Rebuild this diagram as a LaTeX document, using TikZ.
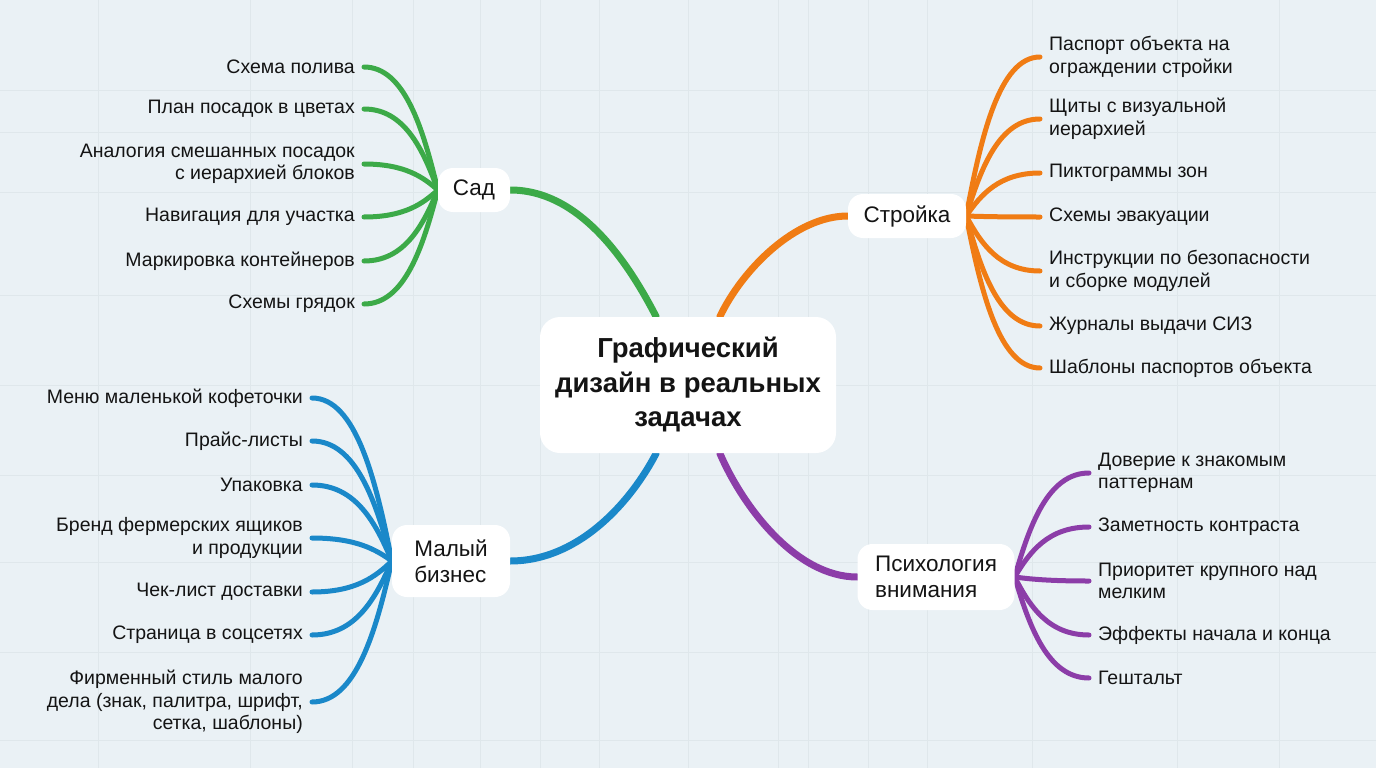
\documentclass[tikz,border=0pt]{standalone}
\usepackage{fontspec}
\setmainfont{Liberation Sans}
\usetikzlibrary{calc}
\pgfdeclarelayer{bg}
\pgfdeclarelayer{links}
\pgfsetlayers{bg,links,main}
\definecolor{bgc}{HTML}{EAF1F5}
\definecolor{gridc}{HTML}{DFE7EB}
\definecolor{cgreen}{HTML}{3CAA48}
\definecolor{corange}{HTML}{F07C14}
\definecolor{cblue}{HTML}{1A88C9}
\definecolor{cpurple}{HTML}{8C3DA8}
\definecolor{ink}{HTML}{141414}
\newcommand\mmfan[3]{\draw[#1] let \p1=(#2), \p2=(#3) in (\p1) .. controls ({\x1+0.2*(\x2-\x1)},{0.5*(\y1+\y2)}) and ({\x2+0.55*(\x1-\x2)},\y2) .. (\p2);}
\begin{document}
\begin{tikzpicture}[x=1pt,y=-1pt,
  gridline/.style={draw=gridc, line width=0.9pt},
  rootbox/.style={rounded corners=20pt, fill=white, align=center, text=ink,
    font=\fontsize{27.5}{34.5}\selectfont\bfseries, minimum width=296pt, minimum height=136pt, inner sep=0pt},
  branchbox/.style={rounded corners=15pt, fill=white, align=left, text=ink,
    font=\fontsize{22.5}{26}\selectfont, inner sep=0pt},
  leafL/.style={anchor=east, align=right, text=ink, font=\fontsize{19.5}{22.5}\selectfont, inner xsep=9pt, inner ysep=0pt},
  leafR/.style={anchor=west, align=left, text=ink, font=\fontsize{19.5}{22.5}\selectfont, inner xsep=9pt, inner ysep=0pt},
  mainlink/.style={line width=7pt, line cap=round},
  leaflink/.style={line width=5pt, line cap=round},
]
\useasboundingbox (0,0) rectangle (1376,768);
\begin{pgfonlayer}{bg}
  \fill[bgc] (0,0) rectangle (1376,768);
  \foreach \gx in {98,250,352,413,480,540,599,688,778,808,868,927,1032,1177,1279}
    \draw[gridline] (\gx,0) -- (\gx,768);
  \foreach \gy in {90,132,192,295,385,475,562,652,740}
    \draw[gridline] (0,\gy) -- (1376,\gy);
\end{pgfonlayer}

% central and branch nodes
\node[rootbox] (root) at (688,385) {Графический\\дизайн в реальных\\задачах};
\node[branchbox, minimum width=72pt, minimum height=44pt] (sad) at (474,190) {Сад};
\node[branchbox, minimum width=118pt, minimum height=44pt] (stroy) at (907,216) {Стройка};
\node[branchbox, minimum width=118pt, minimum height=72pt] (biz) at (451,561) {Малый\\бизнес};
\node[branchbox, minimum width=157pt, minimum height=66pt] (psy) at (936,577) {Психология\\внимания};

% green leaves
\node[leafL] (g1) at (364,67) {Схема полива};
\node[leafL] (g2) at (364,109) {План посадок в цветах};
\node[leafL] (g3) at (364,164) {Аналогия смешанных посадок\\с иерархией блоков};
\node[leafL] (g4) at (364,217) {Навигация для участка};
\node[leafL] (g5) at (364,261) {Маркировка контейнеров};
\node[leafL] (g6) at (364,304) {Схемы грядок};

% orange leaves
\node[leafR] (o1) at (1040,57) {Паспорт объекта на\\ограждении стройки};
\node[leafR] (o2) at (1040,119) {Щиты с визуальной\\иерархией};
\node[leafR] (o3) at (1040,173) {Пиктограммы зон};
\node[leafR] (o4) at (1040,217) {Схемы эвакуации};
\node[leafR] (o5) at (1040,271) {Инструкции по безопасности\\и сборке модулей};
\node[leafR] (o6) at (1040,326) {Журналы выдачи СИЗ};
\node[leafR] (o7) at (1040,368) {Шаблоны паспортов объекта};

% blue leaves
\node[leafL] (b1) at (312,398) {Меню маленькой кофеточки};
\node[leafL] (b2) at (312,441) {Прайс-листы};
\node[leafL] (b3) at (312,485) {Упаковка};
\node[leafL] (b4) at (312,538) {Бренд фермерских ящиков\\и продукции};
\node[leafL] (b5) at (312,592) {Чек-лист доставки};
\node[leafL] (b6) at (312,635) {Страница в соцсетях};
\node[leafL] (b7) at (312,702) {Фирменный стиль малого\\дела (знак, палитра, шрифт,\\сетка, шаблоны)};

% purple leaves
\node[leafR] (p1) at (1089,473) {Доверие к знакомым\\паттернам};
\node[leafR] (p2) at (1089,527) {Заметность контраста};
\node[leafR] (p3) at (1089,581) {Приоритет крупного над\\мелким};
\node[leafR] (p4) at (1089,635) {Эффекты начала и конца};
\node[leafR] (p5) at (1089,678) {Гештальт};

\begin{pgfonlayer}{links}
  % main links
  \draw[mainlink, cgreen] (sad.east) .. controls (580,190) and (628,262) .. (root.115);
  \draw[mainlink, corange] (stroy.west) .. controls (795,216) and (742,270) .. (root.65);
  \draw[mainlink, cblue] (biz.east) .. controls (580,561) and (632,500) .. (root.245);
  \draw[mainlink, cpurple] (psy.west) .. controls (795,577) and (742,505) .. (root.295);
  % leaf links
  \foreach \lf in {g1,g2,g3,g4,g5,g6} {\mmfan{leaflink, cgreen}{sad.west}{\lf.east}}
  \foreach \lf in {o1,o2,o3,o4,o5,o6,o7} {\mmfan{leaflink, corange}{stroy.east}{\lf.west}}
  \foreach \lf in {b1,b2,b3,b4,b5,b6,b7} {\mmfan{leaflink, cblue}{biz.west}{\lf.east}}
  \foreach \lf in {p1,p2,p3,p4,p5} {\mmfan{leaflink, cpurple}{psy.east}{\lf.west}}
\end{pgfonlayer}
\end{tikzpicture}
\end{document}
